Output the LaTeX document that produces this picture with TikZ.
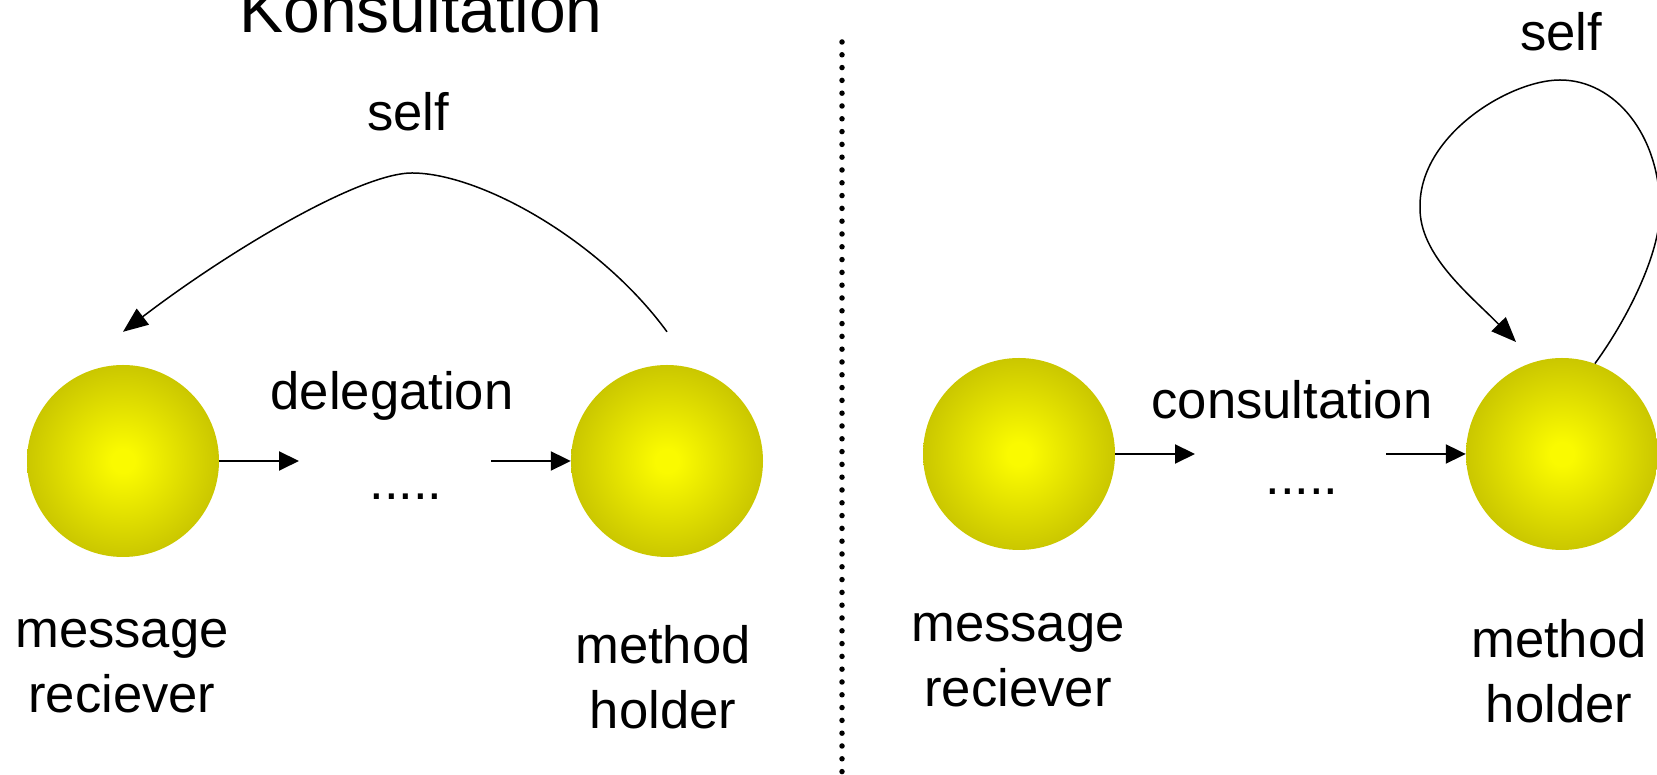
\documentclass[tikz,border=0pt]{standalone}
\usepackage{fontspec}
\setmainfont{Liberation Sans}
\usetikzlibrary{arrows.meta, positioning}

\definecolor{ballin}{RGB}{250,250,0}
\definecolor{ballout}{RGB}{196,192,0}
\pgfdeclareradialshading{ballshade}{\pgfpoint{0bp}{0bp}}{color(0bp)=(ballin); color(3bp)=(ballin); color(28bp)=(ballout); color(50bp)=(ballout)}

\tikzset{
  obj/.style={circle, minimum size=192pt, inner sep=0pt, shading=ballshade},
  lbl/.style={font=\fontsize{52.6}{65}\selectfont, inner sep=0pt, anchor=base},
  headline/.style={font=\fontsize{66}{80}\selectfont, inner sep=0pt, anchor=base},
  msg/.style={-{Triangle[length=20pt,width=19pt]}, line width=2pt},
  selfarc/.style={-{Triangle[length=25pt,width=20pt]}, line width=1.5pt},
  sep/.style={line width=5.5pt, line cap=round, dash pattern=on 0pt off 12.8pt},
}

\begin{document}
\begin{tikzpicture}[x=1pt, y=1pt]
\path[use as bounding box, clip] (0,0) rectangle (1657,775);

% left half: delegation
\node[headline] (title) at (421,742) {Konsultation};
\node[obj] (recv1) at (123,314) {};
\node[obj] (hold1) at (667,314) {};
\node[lbl] (deleg) at (392,365) {delegation};
\node[lbl] (dots1) at (406,275) {.....};
% base of a two-line label sits on its last line
\node[lbl, align=center] (recv1txt) at (122,62) {message\\reciever};
\node[lbl, align=center] (hold1txt) at (663,46) {method\\holder};
\node[lbl] (self1) at (408,644) {self};
\coordinate (d1a) at (299,314);
\coordinate (d1b) at (491,314);
\coordinate[above=33pt of hold1] (s1a);
\coordinate[above=33pt of recv1] (s1b);
\coordinate (s1top) at (412,602);
\draw[msg] (recv1) -- (d1a);
\draw[msg] (d1b) -- (hold1);
\draw[selfarc] (s1a) .. controls (600,535) and (480,602) .. (s1top)
  .. controls (360,602) and (230,525) .. (s1b);

% separator
\draw[sep] (842,733) -- (842,-10);

% right half: consultation
\node[obj] (recv2) at (1019,321) {};
\node[obj] (hold2) at (1562,321) {};
\node[lbl] (consult) at (1292,356) {consultation};
\node[lbl] (dots2) at (1302,280) {.....};
\node[lbl, align=center] (recv2txt) at (1018,68) {message\\reciever};
\node[lbl, align=center] (hold2txt) at (1559,52) {method\\holder};
\node[lbl] (self2) at (1561,724) {self};
\coordinate (d2a) at (1195,321);
\coordinate (d2b) at (1386,321);
\coordinate (s2b) at (1516,433);
\draw[msg] (recv2) -- (d2a);
\draw[msg] (d2b) -- (hold2);
\draw[selfarc] (hold2.70) .. controls (1626,454) and (1660,520) .. (1660,565)
  .. controls (1660,640) and (1615,695) .. (1560,695)
  .. controls (1510,695) and (1419,640) .. (1420,568)
  .. controls (1419,520) and (1470,480) .. (s2b);
\end{tikzpicture}
\end{document}
